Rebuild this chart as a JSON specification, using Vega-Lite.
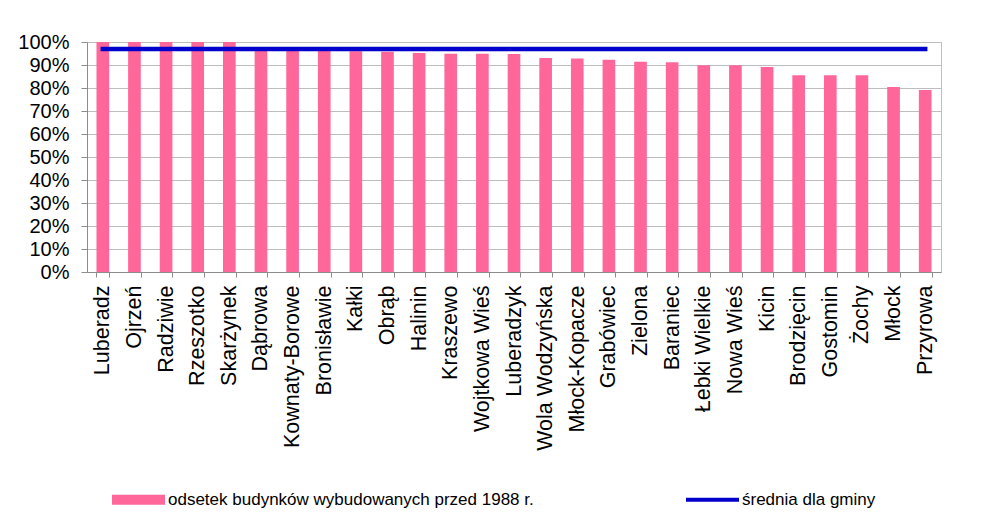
{
  "$schema": "https://vega.github.io/schema/vega-lite/v6.json",
  "autosize": "none",
  "width": 854,
  "height": 230,
  "padding": {"left": 87, "top": 42, "right": 43, "bottom": 255},
  "background": "white",
  "config": {
    "font": "Liberation Sans",
    "view": {"stroke": "#BFBFBF", "strokeWidth": 1},
    "axis": {"labelColor": "black", "labelFont": "Liberation Sans", "domainColor": "#8C8C8C", "tickColor": "#8C8C8C", "gridColor": "#BDBDBD"}
  },
  "resolve": {"axis": {"y": "independent"}},
  "data": {"values": [
    {"wies": "Luberadz", "odsetek": 1.0, "srednia": 0.97},
    {"wies": "Ojrzeń", "odsetek": 1.0, "srednia": 0.97},
    {"wies": "Radziwie", "odsetek": 1.0, "srednia": 0.97},
    {"wies": "Rzeszotko", "odsetek": 1.0, "srednia": 0.97},
    {"wies": "Skarżynek", "odsetek": 1.0, "srednia": 0.97},
    {"wies": "Dąbrowa", "odsetek": 0.965, "srednia": 0.97},
    {"wies": "Kownaty-Borowe", "odsetek": 0.963, "srednia": 0.97},
    {"wies": "Bronisławie", "odsetek": 0.961, "srednia": 0.97},
    {"wies": "Kałki", "odsetek": 0.96, "srednia": 0.97},
    {"wies": "Obrąb", "odsetek": 0.958, "srednia": 0.97},
    {"wies": "Halinin", "odsetek": 0.952, "srednia": 0.97},
    {"wies": "Kraszewo", "odsetek": 0.949, "srednia": 0.97},
    {"wies": "Wojtkowa Wieś", "odsetek": 0.949, "srednia": 0.97},
    {"wies": "Luberadzyk", "odsetek": 0.948, "srednia": 0.97},
    {"wies": "Wola Wodzyńska", "odsetek": 0.93, "srednia": 0.97},
    {"wies": "Młock-Kopacze", "odsetek": 0.928, "srednia": 0.97},
    {"wies": "Grabówiec", "odsetek": 0.923, "srednia": 0.97},
    {"wies": "Zielona", "odsetek": 0.914, "srednia": 0.97},
    {"wies": "Baraniec", "odsetek": 0.912, "srednia": 0.97},
    {"wies": "Łebki Wielkie", "odsetek": 0.899, "srednia": 0.97},
    {"wies": "Nowa Wieś", "odsetek": 0.899, "srednia": 0.97},
    {"wies": "Kicin", "odsetek": 0.891, "srednia": 0.97},
    {"wies": "Brodzięcin", "odsetek": 0.855, "srednia": 0.97},
    {"wies": "Gostomin", "odsetek": 0.855, "srednia": 0.97},
    {"wies": "Żochy", "odsetek": 0.855, "srednia": 0.97},
    {"wies": "Młock", "odsetek": 0.804, "srednia": 0.97},
    {"wies": "Przyrowa", "odsetek": 0.791, "srednia": 0.97}
  ]},
  "encoding": {
    "x": {
      "field": "wies", "type": "nominal", "sort": null, "title": null,
      "scale": {"paddingInner": 0.6, "paddingOuter": 0.3},
      "axis": {"labelAngle": -90, "labelFontSize": 21.5, "labelPadding": 8, "tickSize": 5, "tickBand": "extent", "grid": false, "labelOverlap": false}
    }
  },
  "layer": [
    {
      "mark": {"type": "bar"},
      "encoding": {
        "y": {
          "field": "odsetek", "type": "quantitative", "title": null,
          "scale": {"domain": [0, 1], "nice": false},
          "axis": {"orient": "left", "format": ".0%", "values": [0, 0.1, 0.2, 0.3, 0.4, 0.5, 0.6, 0.7, 0.8, 0.9, 1], "labelFontSize": 20, "labelPadding": 12, "tickSize": 6, "grid": true, "labelOverlap": false, "labelFlush": false}
        },
        "color": {
          "datum": "odsetek budynków wybudowanych przed 1988 r.",
          "type": "nominal",
          "scale": {"domain": ["odsetek budynków wybudowanych przed 1988 r.", "średnia dla gminy"], "range": ["#FF6699", "#0000CC"]},
          "legend": {
            "title": null,
            "orient": "none",
            "legendX": 25,
            "legendY": 431,
            "direction": "horizontal",
            "labelFontSize": 17,
            "labelColor": "black",
            "labelOffset": 3,
            "columnPadding": 152,
            "symbolSize": 2809,
            "labelLimit": 600,
            "encode": {
              "symbols": {
                "update": {
                  "shape": {"signal": "datum.value === 'średnia dla gminy' ? 'M-1,-0.075H1V0.075H-1Z' : 'M-1,-0.19H1V0.19H-1Z'"},
                  "fill": {"signal": "datum.value === 'średnia dla gminy' ? '#0000CC' : '#FF6699'"},
                  "strokeWidth": {"value": 0},
                  "opacity": {"value": 1},
                  "fillOpacity": {"value": 1}
                }
              }
            }
          }
        }
      }
    },
    {
      "mark": {"type": "line", "strokeWidth": 4.5, "strokeCap": "square"},
      "encoding": {
        "y": {"field": "srednia", "type": "quantitative", "axis": null},
        "color": {"datum": "średnia dla gminy", "type": "nominal"}
      }
    }
  ]
}
